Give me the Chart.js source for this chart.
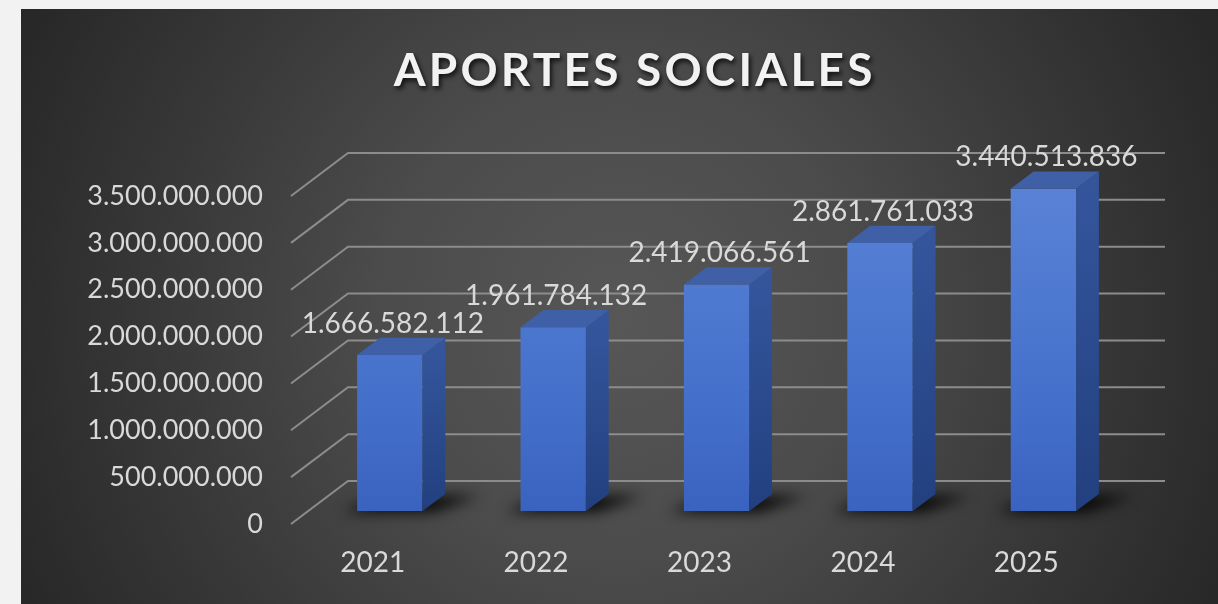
<!DOCTYPE html>
<html>
<head>
<meta charset="utf-8">
<script src="https://cdn.jsdelivr.net/npm/chart.js@4.4.1/dist/chart.umd.min.js"></script>
<style>
  html, body { margin: 0; padding: 0; background: #f2f2f2; }
  canvas { display: block; }
</style>
</head>
<body>
<canvas id="aportes" width="1218" height="604"></canvas>
<script>
const years = ['2021', '2022', '2023', '2024', '2025'];
const aportes = [1666582112, 1961784132, 2419066561, 2861761033, 3440513836];
const yMax = 3500000000;
const yStep = 500000000;

// perspective of the floor (front edge -> back wall)
const DX = 57, DY = 43;
const Z0 = 0.3, Z1 = 0.7;   // bar depth, as share of floor depth
const FONT = 'Lato, "Open Sans", sans-serif';

function puntos(n) {
  return Math.round(n).toString().replace(/\B(?=(\d{3})+(?!\d))/g, '.');
}

const fake3d = {
  id: 'fake3d',
  beforeDraw(chart) {
    const ctx = chart.ctx;
    const W = chart.width, H = chart.height;
    ctx.save();
    ctx.fillStyle = '#f2f2f2';
    ctx.fillRect(0, 0, W, H);
    const g = ctx.createRadialGradient(620, 320, 0, 620, 320, 820);
    g.addColorStop(0, '#575757');
    g.addColorStop(0.3, '#4b4b4b');
    g.addColorStop(0.55, '#393939');
    g.addColorStop(0.8, '#282828');
    g.addColorStop(1, '#1e1e1e');
    ctx.fillStyle = g;
    ctx.fillRect(21, 9, W - 21, H - 9);

    // title
    ctx.font = 'bold 46px ' + FONT;
    ctx.textAlign = 'center';
    ctx.textBaseline = 'middle';
    const w = ctx.measureText('APORTES SOCIALES').width;
    const sp = Math.max(0, (479 - w) / 15);
    ctx.letterSpacing = sp.toFixed(1) + 'px';
    ctx.shadowColor = 'rgba(0,0,0,0.8)';
    ctx.shadowBlur = 5;
    ctx.shadowOffsetX = 2;
    ctx.shadowOffsetY = 3;
    ctx.fillStyle = '#f2f2f2';
    ctx.fillText('APORTES SOCIALES', 633 + sp / 2, 71);
    ctx.restore();

    // grid: floor diagonals + back wall
    const y = chart.scales.y, a = chart.chartArea;
    ctx.save();
    ctx.strokeStyle = '#8c8c8c';
    ctx.lineWidth = 2;
    for (let v = 0; v <= yMax; v += yStep) {
      const py = y.getPixelForValue(v);
      ctx.beginPath();
      ctx.moveTo(a.left, py);
      ctx.lineTo(a.left + DX, py - DY);
      ctx.lineTo(a.right + DX, py - DY);
      ctx.stroke();
    }
    ctx.restore();
  },
  beforeDatasetsDraw(chart) {
    const ctx = chart.ctx;
    const bars = chart.getDatasetMeta(0).data;
    ctx.save();
    ctx.filter = 'blur(7px)';
    ctx.fillStyle = 'rgba(0,0,0,0.9)';
    bars.forEach(b => {
      const x0 = b.x - b.width / 2 + Z0 * DX;
      const x1 = b.x + b.width / 2 + Z0 * DX;
      const yb = b.base - Z0 * DY;
      const ddx = (Z1 - Z0) * DX, ddy = (Z1 - Z0) * DY;
      ctx.beginPath();
      ctx.moveTo(x0 - 14, yb + 1);
      ctx.lineTo(x1 + 10, yb + 1);
      ctx.lineTo(x1 + ddx + 34, yb - ddy + 2);
      ctx.lineTo(x0 + ddx, yb - ddy + 2);
      ctx.closePath();
      ctx.fill();
    });
    ctx.restore();
    ctx.save();
    ctx.translate(Z0 * DX, -Z0 * DY);
  },
  afterDatasetsDraw(chart) {
    const ctx = chart.ctx;
    ctx.restore();
    const bars = chart.getDatasetMeta(0).data;
    const ddx = (Z1 - Z0) * DX, ddy = (Z1 - Z0) * DY;
    bars.forEach((b, i) => {
      const x0 = b.x - b.width / 2 + Z0 * DX;
      const x1 = b.x + b.width / 2 + Z0 * DX;
      const yt = b.y - Z0 * DY;
      const yb = b.base - Z0 * DY;
      ctx.save();
      // side face
      const gs = ctx.createLinearGradient(0, yt, 0, yb);
      gs.addColorStop(0, '#34559c');
      gs.addColorStop(1, '#22407f');
      ctx.fillStyle = gs;
      ctx.beginPath();
      ctx.moveTo(x1, yt);
      ctx.lineTo(x1 + ddx, yt - ddy);
      ctx.lineTo(x1 + ddx, yb - ddy);
      ctx.lineTo(x1, yb);
      ctx.closePath();
      ctx.fill();
      // top face
      ctx.fillStyle = '#3f5fa6';
      ctx.beginPath();
      ctx.moveTo(x0, yt);
      ctx.lineTo(x1, yt);
      ctx.lineTo(x1 + ddx, yt - ddy);
      ctx.lineTo(x0 + ddx, yt - ddy);
      ctx.closePath();
      ctx.fill();
      // value label
      ctx.font = '28px ' + FONT;
      ctx.fillStyle = '#d9d9d9';
      ctx.textAlign = 'center';
      ctx.textBaseline = 'alphabetic';
      ctx.fillText(puntos(aportes[i]), (x0 + x1) / 2 + 3, yt - ddy - 5);
      ctx.restore();
    });
  }
};

new Chart(document.getElementById('aportes'), {
  type: 'bar',
  data: {
    labels: years,
    datasets: [{
      label: 'Aportes sociales',
      data: aportes,
      borderWidth: 0,
      barPercentage: 0.4,
      categoryPercentage: 1,
      backgroundColor: (c) => {
        const a = c.chart.chartArea;
        if (!a) return '#4672cc';
        const g = c.chart.ctx.createLinearGradient(0, a.top, 0, a.bottom);
        g.addColorStop(0, '#5a83d6');
        g.addColorStop(0.6, '#4672cc');
        g.addColorStop(1, '#3a63c0');
        return g;
      }
    }]
  },
  options: {
    responsive: false,
    animation: false,
    layout: {
      padding: { left: 0, top: 196, right: 110, bottom: 0 }
    },
    plugins: {
      legend: { display: false },
      tooltip: { enabled: false }
    },
    scales: {
      x: {
        grid: { display: false },
        border: { display: false },
        afterFit(s) { s.height = 80; },
        ticks: {
          color: '#d9d9d9',
          padding: 14,
          font: { family: FONT, size: 28 }
        }
      },
      y: {
        min: 0,
        max: yMax,
        grid: { display: false },
        border: { display: false },
        afterFit(s) { s.width = 291; },
        ticks: {
          stepSize: yStep,
          color: '#d9d9d9',
          padding: 20,
          font: { family: FONT, size: 27 },
          callback: (v) => puntos(v)
        }
      }
    }
  },
  plugins: [fake3d]
});
</script>
</body>
</html>
